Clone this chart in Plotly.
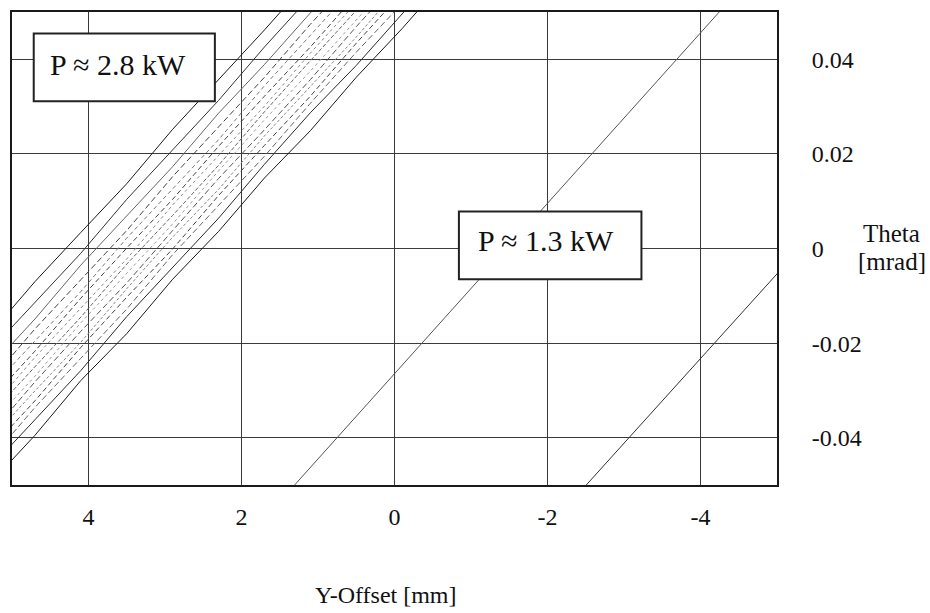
import plotly.graph_objects as go

# ---- axes ----
X_TICKS = [4, 2, 0, -2, -4]
X_TICK_TEXT = ["4", "2", "0", "-2", "-4"]
Y_TICKS = [0.04, 0.02, 0.0, -0.02, -0.04]
Y_TICK_TEXT = ["0.04", "0.02", "0", "-0.02", "-0.04"]

# ---- 2.8 kW ridge: contour lines sampled at common Y-offsets [mm] ----
BAND_X = [5.3, 4.7, 4.1, 3.5, 2.9, 2.3, 1.7, 1.1, 0.5, -0.1, -0.7]
band_c01 = [-0.0499, -0.0395, -0.0279, -0.0180, -0.0065, 0.0036, 0.0149, 0.0249, 0.0362, 0.0465, 0.0575]
band_c02 = [-0.0466, -0.0363, -0.0258, -0.0144, -0.0039, 0.0064, 0.0178, 0.0287, 0.0387, 0.0498, 0.0605]
band_c03 = [-0.0449, -0.0336, -0.0232, -0.0128, -0.0013, 0.0090, 0.0195, 0.0307, 0.0415, 0.0518, 0.0627]
band_c04 = [-0.0427, -0.0322, -0.0209, -0.0103, -0.0001, 0.0112, 0.0218, 0.0322, 0.0434, 0.0540, 0.0647]
band_c05 = [-0.0407, -0.0301, -0.0198, -0.0085, 0.0024, 0.0125, 0.0238, 0.0343, 0.0447, 0.0558, 0.0665]
band_c06 = [-0.0395, -0.0282, -0.0175, -0.0073, 0.0038, 0.0148, 0.0251, 0.0357, 0.0469, 0.0575, 0.0682]
band_c07 = [-0.0375, -0.0270, -0.0157, -0.0053, 0.0052, 0.0164, 0.0272, 0.0375, 0.0484, 0.0592, 0.0699]
band_c08 = [-0.0355, -0.0250, -0.0145, -0.0033, 0.0070, 0.0176, 0.0289, 0.0397, 0.0501, 0.0609, 0.0716]
band_c09 = [-0.0343, -0.0230, -0.0126, -0.0022, 0.0092, 0.0196, 0.0301, 0.0413, 0.0518, 0.0626, 0.0733]
band_c10 = [-0.0323, -0.0217, -0.0105, 0.0001, 0.0104, 0.0216, 0.0322, 0.0426, 0.0536, 0.0644, 0.0751]
band_c11 = [-0.0300, -0.0195, -0.0091, 0.0022, 0.0127, 0.0230, 0.0344, 0.0451, 0.0556, 0.0664, 0.0771]
band_c12 = [-0.0283, -0.0170, -0.0066, 0.0038, 0.0152, 0.0256, 0.0362, 0.0474, 0.0578, 0.0686, 0.0793]
band_c13 = [-0.0254, -0.0149, -0.0035, 0.0068, 0.0173, 0.0286, 0.0389, 0.0498, 0.0605, 0.0713, 0.0820]
band_c14 = [-0.0218, -0.0113, -0.0010, 0.0104, 0.0209, 0.0313, 0.0426, 0.0531, 0.0638, 0.0746, 0.0853]
band_c15 = [-0.0183, -0.0070, 0.0034, 0.0137, 0.0252, 0.0356, 0.0462, 0.0571, 0.0678, 0.0786, 0.0893]

# ---- 1.3 kW contours ----
LINE_A_X = [1.6, -1.5, -4.6]
LINE_A_THETA = [-0.0553, 0.0006, 0.0564]
LINE_B_X = [-2.3, -3.8, -5.3]
LINE_B_THETA = [-0.0537, -0.0268, 0.0000]

LABEL_HIGH = "P \u2248 2.8 kW"
LABEL_LOW = "P \u2248 1.3 kW"

band_lines = [band_c01, band_c02, band_c03, band_c04, band_c05, band_c06, band_c07,
              band_c08, band_c09, band_c10, band_c11, band_c12, band_c13, band_c14, band_c15]
# (color, dash) for each ridge contour: outer ones solid, inner ones broken
band_styles = [("#1a1a1a", "solid"), ("#2a2a2a", "solid"), ("#666", "6px,3px"), ("#444", "5px,3px"),
               ("#888", "3px,2px"), ("#555", "6px,3px"), ("#999", "3px,3px"), ("#666", "4px,2px"),
               ("#888", "3px,3px"), ("#444", "5px,3px"), ("#777", "4px,3px"), ("#444", "6px,3px"),
               ("#666", "solid"), ("#333", "solid"), ("#1a1a1a", "solid")]

SERIF = "Liberation Serif"

fig = go.Figure()
for theta, (col, dash) in zip(band_lines, band_styles):
    fig.add_trace(go.Scatter(x=BAND_X, y=theta, mode="lines",
                             line=dict(color=col, width=1, dash=dash), hoverinfo="skip"))

fig.add_trace(go.Scatter(x=LINE_A_X, y=LINE_A_THETA, mode="lines",
                         line=dict(color="#555", width=1), hoverinfo="skip"))
fig.add_trace(go.Scatter(x=LINE_B_X, y=LINE_B_THETA, mode="lines",
                         line=dict(color="#333", width=1), hoverinfo="skip"))

# label boxes (white, covering the contours beneath)
box_line = dict(color="#222", width=2)
fig.add_shape(type="rect", xref="x", yref="y", x0=4.716, x1=2.348, y0=0.03114, y1=0.04543,
              fillcolor="white", line=box_line, layer="above")
fig.add_shape(type="rect", xref="x", yref="y", x0=-0.842, x1=-3.228, y0=-0.0065, y1=0.00784,
              fillcolor="white", line=box_line, layer="above")

fig.add_annotation(x=3.608, y=0.0388, xref="x", yref="y", text=LABEL_HIGH, showarrow=False,
                   font=dict(family=SERIF, size=30, color="#111"), xanchor="center", yanchor="middle")
fig.add_annotation(x=-1.98, y=0.0016, xref="x", yref="y", text=LABEL_LOW, showarrow=False,
                   font=dict(family=SERIF, size=30, color="#111"), xanchor="center", yanchor="middle")

# axis titles
fig.add_annotation(x=0.4889, y=-0.2316, xref="paper", yref="paper", text="Y-Offset [mm]",
                   showarrow=False, font=dict(family=SERIF, size=24, color="#111"),
                   xanchor="center", yanchor="middle")
fig.add_annotation(x=1.15, y=0.5326, xref="paper", yref="paper", text="Theta",
                   showarrow=False, font=dict(family=SERIF, size=25, color="#111"),
                   xanchor="center", yanchor="middle")
fig.add_annotation(x=1.15, y=0.4716, xref="paper", yref="paper", text="[mrad]",
                   showarrow=False, font=dict(family=SERIF, size=25, color="#111"),
                   xanchor="center", yanchor="middle")

fig.update_layout(
    width=930, height=613,
    margin=dict(l=10, r=153, t=10, b=128),
    plot_bgcolor="white", paper_bgcolor="white",
    showlegend=False,
    font=dict(family=SERIF, color="#111"),
)
fig.update_xaxes(range=[5, -5], tickmode="array", tickvals=X_TICKS, ticktext=X_TICK_TEXT,
                 showgrid=True, gridcolor="#3a3a3a", gridwidth=1, zeroline=False,
                 showline=True, linecolor="#1a1a1a", linewidth=2, mirror=True,
                 ticks="", ticklabelstandoff=9, tickfont=dict(family=SERIF, size=24, color="#111"))
fig.update_yaxes(range=[-0.05, 0.05], side="right", tickmode="array", tickvals=Y_TICKS,
                 ticktext=Y_TICK_TEXT, showgrid=True, gridcolor="#3a3a3a", gridwidth=1, zeroline=False,
                 showline=True, linecolor="#1a1a1a", linewidth=2, mirror=True,
                 ticks="", ticklabelstandoff=28, tickfont=dict(family=SERIF, size=24, color="#111"))

fig.write_html("out.html")
